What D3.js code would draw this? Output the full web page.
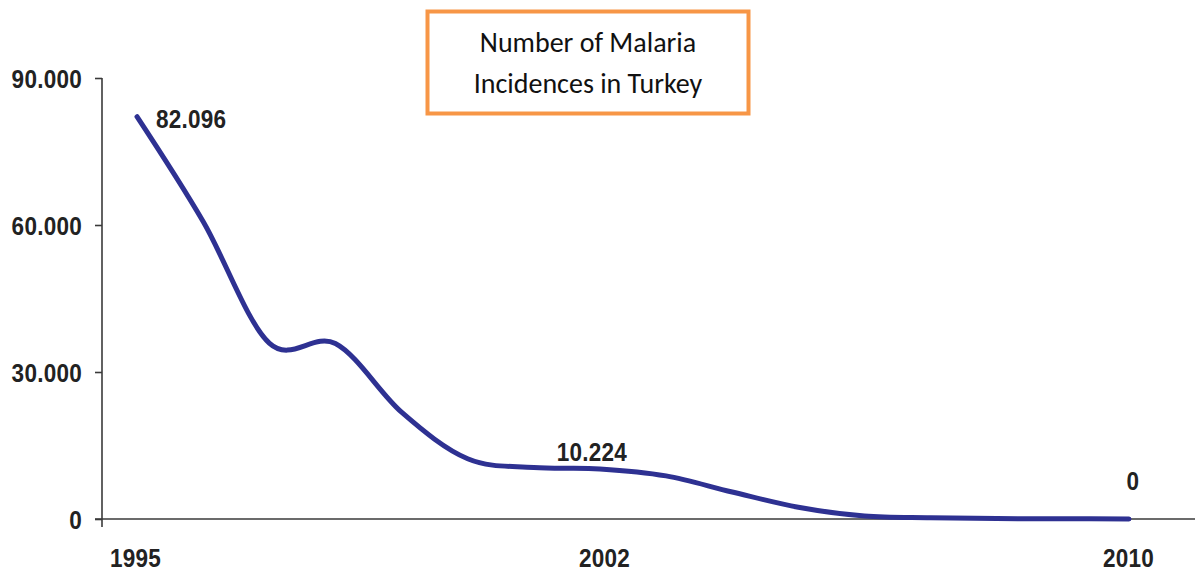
<!DOCTYPE html>
<html>
<head>
<meta charset="utf-8">
<script src="https://cdn.jsdelivr.net/npm/d3@7"></script>
<style>
  html, body { margin: 0; padding: 0; background: #fff; }
  svg { display: block; }
</style>
</head>
<body>
<svg id="chart" width="1195" height="572"></svg>
<script>
// Malaria cases per year in Turkey
const years = [1995, 1996, 1997, 1998, 1999, 2000, 2001, 2002, 2003, 2004, 2005, 2006, 2007, 2008, 2009, 2010];
const cases = [82096, 60700, 35900, 35800, 21800, 12300, 10500, 10224, 8800, 5500, 2400, 600, 250, 80, 60, 0];
const yTicks = [0, 30000, 60000, 90000];
const xTicks = [1995, 2002, 2010];
const labelledYears = [1995, 2002, 2010];
const titleLines = ["Number of Malaria", "Incidences in Turkey"];

const svg = d3.select("#chart");
const locale = d3.formatLocale({ decimal: ",", thousands: ".", grouping: [3], currency: ["", ""] });
const fmt = locale.format(",d");

const x = d3.scaleLinear().domain([1995, 2010]).range([137, 1129]);
const y = d3.scaleLinear().domain([0, 90000]).range([519, 78]);

const axisFont = "'Liberation Sans', Arial, sans-serif";
const axisColor = "#3a3a3a";
const SX = 0.9; // horizontal squeeze for the bold condensed figures

// bold, horizontally condensed number style; keeps the anchor x in place
function condensed(sel) {
  sel.attr("font-family", axisFont).attr("font-weight", "bold")
    .attr("font-size", 25).attr("fill", "#222").attr("letter-spacing", 0.3)
    .each(function () {
      const t = d3.select(this);
      const x0 = +t.attr("x") || 0;
      const y0 = +t.attr("y") || 0;
      t.attr("x", 0).attr("y", 0)
        .attr("transform", `translate(${x0},${y0}) scale(${SX},1)`);
    });
}

// y axis: vertical rule, ticks and labels
const yAxis = d3.axisLeft(y).tickValues(yTicks).tickSize(7).tickPadding(13).tickFormat(fmt);
const gy = svg.append("g").attr("transform", "translate(102,0)").call(yAxis);
gy.select(".domain").remove();
gy.selectAll(".tick line").attr("stroke", axisColor).attr("stroke-width", 1.6);
gy.selectAll(".tick text").attr("dy", "0.36em").call(condensed);
svg.append("line")
  .attr("x1", 102).attr("x2", 102).attr("y1", y(90000)).attr("y2", y(0) + 8)
  .attr("stroke", axisColor).attr("stroke-width", 1.6);

// x axis: baseline running to the right edge, year labels below
svg.append("line")
  .attr("x1", 95).attr("x2", 1195).attr("y1", y(0)).attr("y2", y(0))
  .attr("stroke", axisColor).attr("stroke-width", 1.6);
const xAxis = d3.axisBottom(x).tickValues(xTicks).tickSize(0).tickPadding(0).tickFormat(d3.format("d"));
const gx = svg.append("g").attr("transform", `translate(0,${y(0)})`).call(xAxis);
gx.select(".domain").remove();
gx.selectAll(".tick text")
  .attr("dy", 0)
  .attr("y", 48)
  .attr("x", d => d === 1995 ? -2 : (d === 2002 ? 4 : -1))
  .call(condensed);

// incidence curve
const data = years.map((yr, i) => ({ year: yr, value: cases[i] }));
const line = d3.line()
  .x(d => x(d.year))
  .y(d => y(d.value))
  .curve(d3.curveCardinal.tension(0));
svg.append("path")
  .datum(data)
  .attr("d", line)
  .attr("fill", "none")
  .attr("stroke", "#2e3192")
  .attr("stroke-width", 5)
  .attr("stroke-linecap", "round")
  .attr("stroke-linejoin", "round");

// value labels on selected years
const labelled = data.filter(d => labelledYears.includes(d.year));
svg.selectAll("text.value")
  .data(labelled)
  .join("text")
  .attr("class", "value")
  .attr("x", d => d.year === 1995 ? x(d.year) + 19 : (d.year === 2010 ? x(d.year) + 4 : x(d.year) - 8))
  .attr("y", d => d.year === 1995 ? y(d.value) + 11 : (d.year === 2010 ? y(d.value) - 29 : y(d.value) - 8))
  .attr("text-anchor", d => d.year === 1995 ? "start" : "middle")
  .text(d => fmt(d.value))
  .call(condensed);

// title box
svg.append("rect")
  .attr("x", 427.5).attr("y", 11.5).attr("width", 321).attr("height", 102)
  .attr("fill", "#fff").attr("stroke", "#f79646").attr("stroke-width", 4);
svg.append("text")
  .attr("text-anchor", "middle")
  .attr("font-family", "Carlito, Calibri, 'Open Sans', sans-serif")
  .attr("font-size", 28).attr("fill", "#111")
  .selectAll("tspan")
  .data(titleLines)
  .join("tspan")
  .attr("x", 588)
  .attr("y", (d, i) => 52 + i * 41)
  .text(d => d);
</script>
</body>
</html>
